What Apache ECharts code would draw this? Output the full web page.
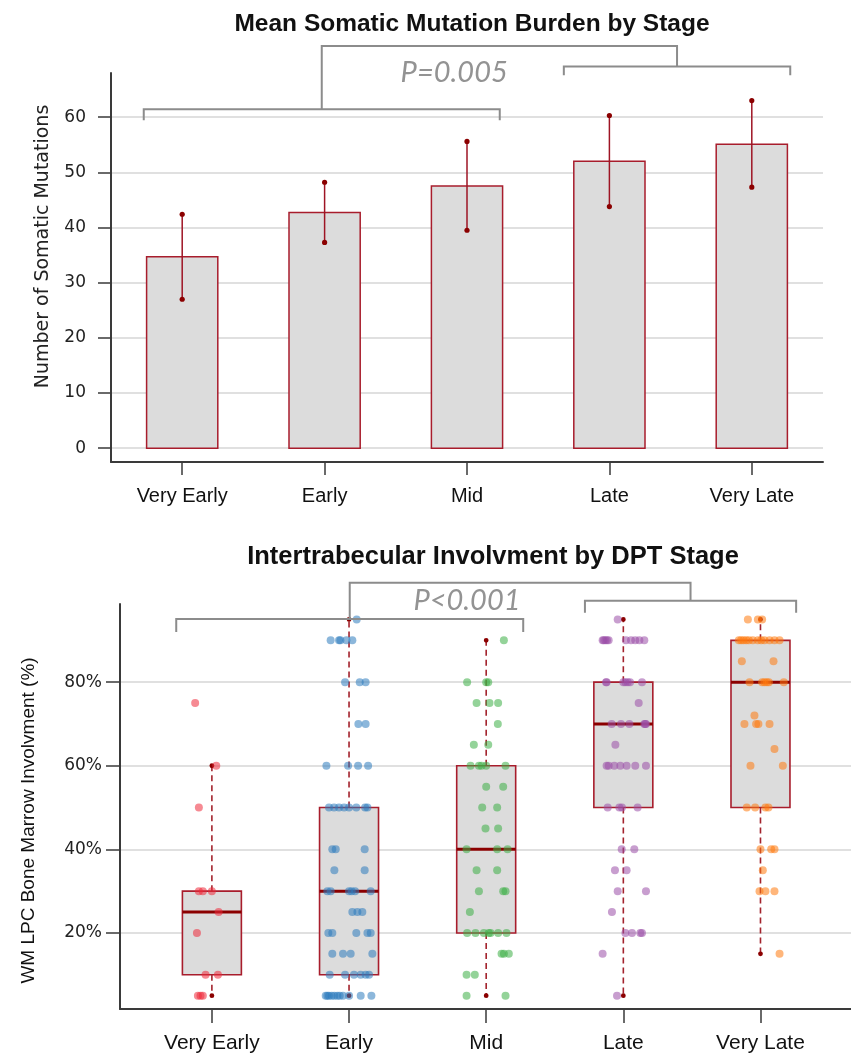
<!DOCTYPE html>
<html>
<head>
<meta charset="utf-8">
<script src="https://cdn.jsdelivr.net/npm/echarts@6/dist/echarts.min.js"></script>
<style>
  html, body { margin: 0; padding: 0; background: #ffffff; }
  #chart { width: 851px; height: 1057px; }
</style>
</head>
<body>
<div id="chart"></div>
<script>
// ---------- data ----------
const stages = ['Very Early', 'Early', 'Mid', 'Late', 'Very Late'];

// Mean somatic mutation burden with error-bar bounds
const burdenMean  = [34.7, 42.7, 47.5, 52.0, 55.1];
const burdenLower = [27.0, 37.3, 39.5, 43.8, 47.3];
const burdenUpper = [42.4, 48.2, 55.6, 60.3, 63.0];
const burdenTicks = [0, 10, 20, 30, 40, 50, 60];

// Intertrabecular involvement: box summaries per stage (%)
const whiskerLow  = [5, 5, 5, 5, 15];
const quartile1   = [10, 10, 20, 50, 50];
const medianInv   = [25, 30, 40, 70, 80];
const quartile3   = [30, 50, 60, 80, 90];
const whiskerHigh = [60, 95, 90, 95, 95];
const involvementTicks = [20, 40, 60, 80];

// Individual patients (%) with their horizontal jitter (fraction of stage spacing)
const veryEarlyVals = [75, 60, 50, 30, 30, 30, 25, 20, 10, 10, 5, 5, 5];
const veryEarlyJit  = [-0.122, 0.032, -0.095, -0.095, -0.066, 0, 0.049, -0.109, -0.046, 0.044, -0.102, -0.083, -0.066];

const earlyVals = [95,
  90, 90, 90, 90, 90,
  80, 80, 80,
  70, 70,
  60, 60, 60, 60,
  50, 50, 50, 50, 50, 50, 50, 50,
  40, 40, 40,
  35, 35,
  30, 30, 30, 30, 30, 30,
  25, 25, 25,
  20, 20, 20, 20, 20,
  15, 15, 15, 15,
  10, 10, 10, 10, 10, 10,
  5, 5, 5, 5, 5, 5, 5, 5, 5, 5, 5];
const earlyJit = [0.056,
  -0.134, -0.073, -0.063, -0.019, 0.024,
  -0.029, 0.078, 0.121,
  0.068, 0.121,
  -0.165, -0.007, 0.066, 0.139,
  -0.146, -0.109, -0.073, -0.036, 0, 0.053, 0.117, 0.134,
  -0.122, -0.097, 0.114,
  -0.107, 0.114,
  -0.158, -0.134, 0, 0.019, 0.044, 0.158,
  0.024, 0.061, 0.097,
  -0.151, -0.122, 0.053, 0.134, 0.158,
  -0.122, -0.044, 0.012, 0.170,
  -0.141, -0.029, 0.036, 0.085, 0.121, 0.146,
  -0.170, -0.158, -0.146, -0.126, -0.107, -0.085, -0.068, -0.044, 0, 0.085, 0.163];

const midVals = [90,
  80, 80, 80,
  75, 75, 75,
  70,
  65, 65,
  60, 60, 60, 60, 60,
  55, 55,
  50, 50,
  45, 45,
  40, 40, 40,
  35, 35,
  30, 30, 30,
  25,
  20, 20, 20, 20, 20, 20, 20,
  15, 15, 15,
  10, 10,
  5, 5];
const midJit = [0.129,
  -0.139, 0, 0.015,
  -0.070, 0.024, 0.087,
  0.085,
  -0.090, 0.015,
  -0.114, -0.053, -0.034, 0, 0.141,
  0, 0.124,
  -0.029, 0.080,
  -0.005, 0.087,
  -0.143, 0.080, 0.156,
  -0.070, 0.080,
  -0.053, 0.124, 0.141,
  -0.119,
  -0.139, -0.078, -0.017, 0.019, 0.032, 0.087, 0.148,
  0.112, 0.129, 0.165,
  -0.143, -0.083,
  -0.143, 0.141];

const lateVals = [95,
  90, 90, 90, 90, 90, 90, 90, 90, 90, 90,
  80, 80, 80, 80, 80, 80, 80,
  75,
  70, 70, 70, 70, 70, 70,
  65,
  60, 60, 60, 60, 60, 60, 60,
  50, 50, 50, 50,
  40, 40,
  35, 35,
  30, 30,
  25,
  20, 20, 20, 20,
  15,
  5];
const lateJit = [-0.041,
  -0.151, -0.143, -0.131, -0.119, -0.107, 0.019, 0.056, 0.087, 0.117, 0.153,
  -0.126, -0.122, 0, 0.015, 0.032, 0.049, 0.136,
  0.112,
  -0.085, -0.017, 0.044, 0.153, 0.160, 0.165,
  -0.058,
  -0.122, -0.107, -0.066, -0.022, 0.024, 0.087, 0.165,
  -0.114, -0.029, -0.010, 0.104,
  -0.012, 0.080,
  -0.061, 0.024,
  -0.041, 0.165,
  -0.083,
  0.015, 0.063, 0.124, 0.136,
  -0.151,
  -0.046];

const veryLateVals = [95, 95, 95,
  90, 90, 90, 90, 90, 90, 90, 90, 90, 90, 90, 90,
  85, 85,
  80, 80, 80, 80, 80, 80,
  72,
  70, 70, 70, 70,
  64,
  60, 60,
  50, 50, 50, 50,
  40, 40, 40,
  35,
  30, 30, 30,
  15];
const veryLateJit = [-0.092, -0.019, 0.012,
  -0.158, -0.141, -0.124, -0.104, -0.085, -0.056, -0.019, 0.005, 0.029, 0.066, 0.102, 0.139,
  -0.136, 0.095,
  -0.080, 0.012, 0.029, 0.046, 0.061, 0.170,
  -0.044,
  -0.117, -0.032, -0.015, 0.066,
  0.102,
  -0.073, 0.163,
  -0.100, -0.039, 0.036, 0.058,
  0, 0.078, 0.102,
  0.017,
  -0.007, 0.036, 0.102,
  0.139];

const stageColors = ['#ee2a3a', '#2e7bbd', '#3cae45', '#9b4ea8', '#ff7a0e'];

// ---------- styling helpers ----------
const AXIS_COLOR = '#3a3a3a';
const GRID_COLOR = '#d6d6d6';
const BRACKET_COLOR = '#8c8c8c';
const BOX_FILL = '#dcdcdc';
const BOX_EDGE = '#a81d2c';
const DARK_RED = '#8b0000';

function bracketRenderer(spec) {
  return function (params, api) {
    const line = (pts) => ({
      type: 'polyline',
      shape: { points: pts.map(p => api.coord(p)) },
      style: { stroke: BRACKET_COLOR, lineWidth: 2, fill: null }
    });
    const lMid = (spec.left[0] + spec.left[1]) / 2;
    const rMid = (spec.right[0] + spec.right[1]) / 2;
    const txt = api.coord([spec.labelX, spec.labelY]);
    return {
      type: 'group',
      children: [
        line([[spec.left[0], spec.leftY - spec.leftDrop], [spec.left[0], spec.leftY],
              [spec.left[1], spec.leftY], [spec.left[1], spec.leftY - spec.leftDrop]]),
        line([[spec.right[0], spec.rightY - spec.rightDrop], [spec.right[0], spec.rightY],
              [spec.right[1], spec.rightY], [spec.right[1], spec.rightY - spec.rightDrop]]),
        line([[lMid, spec.leftY], [lMid, spec.topY], [rMid, spec.topY], [rMid, spec.rightY]]),
        {
          type: 'text',
          x: txt[0], y: txt[1],
          style: {
            text: spec.label,
            fill: '#939393',
            fontStyle: 'italic',
            fontWeight: 'normal',
            fontSize: 29,
            fontFamily: 'Lato, "DejaVu Sans", sans-serif',
            align: 'center', verticalAlign: 'middle'
          }
        }
      ]
    };
  };
}

function stripSeries(vals, jit, stageIdx) {
  return {
    type: 'scatter',
    xAxisIndex: 1, yAxisIndex: 1,
    symbolSize: 8,
    itemStyle: { color: stageColors[stageIdx], opacity: 0.55 },
    z: 5,
    data: vals.map((v, k) => [stageIdx + jit[k], v])
  };
}

const chart = echarts.init(document.getElementById('chart'), null, { renderer: 'canvas' });

const valueFont = '"DejaVu Sans", sans-serif';
const textFont = '"Liberation Sans", Arial, sans-serif';

const option = {
  backgroundColor: '#ffffff',
  animation: false,
  title: [
    {
      text: 'Mean Somatic Mutation Burden by Stage',
      left: 467, top: 7, textAlign: 'center',
      textStyle: { fontFamily: textFont, fontWeight: 'bold', fontSize: 24.5, color: '#111' }
    },
    {
      text: 'Intertrabecular Involvment by DPT Stage',
      left: 488, top: 539, textAlign: 'center',
      textStyle: { fontFamily: textFont, fontWeight: 'bold', fontSize: 25.5, color: '#111' }
    }
  ],
  grid: [
    { left: 111, right: 28, top: 73, bottom: 595, containLabel: false, outerBoundsMode: 'none' },
    { left: 120, right: 0, top: 604, bottom: 48, containLabel: false, outerBoundsMode: 'none' }
  ],
  xAxis: [
    {
      gridIndex: 0, type: 'value', min: -0.5, max: 4.5,
      axisLine: { show: true, onZero: false, lineStyle: { color: AXIS_COLOR, width: 2 } },
      axisTick: { show: true, customValues: [0, 1, 2, 3, 4], length: 13, lineStyle: { color: AXIS_COLOR, width: 1.5 } },
      axisLabel: { customValues: [0, 1, 2, 3, 4], formatter: v => stages[v], margin: 24,
                   fontFamily: textFont, fontSize: 20, color: '#111' },
      splitLine: { show: false }
    },
    {
      gridIndex: 1, type: 'value', min: -0.67, max: 4.66,
      axisLine: { show: true, onZero: false, lineStyle: { color: AXIS_COLOR, width: 2 } },
      axisTick: { show: true, customValues: [0, 1, 2, 3, 4], length: 14, lineStyle: { color: AXIS_COLOR, width: 1.5 } },
      axisLabel: { customValues: [0, 1, 2, 3, 4], formatter: v => stages[v], margin: 24,
                   fontFamily: textFont, fontSize: 21, color: '#111' },
      splitLine: { show: false }
    }
  ],
  yAxis: [
    {
      gridIndex: 0, type: 'value', min: -2.5, max: 68,
      name: 'Number of Somatic Mutations', nameLocation: 'middle', nameGap: 58,
      nameTextStyle: { fontFamily: valueFont, fontSize: 19, color: '#222', padding: [0, 0, 0, 42] },
      axisLine: { show: true, onZero: false, lineStyle: { color: AXIS_COLOR, width: 2 } },
      axisTick: { show: true, customValues: burdenTicks, length: 13, lineStyle: { color: AXIS_COLOR, width: 1.5 } },
      axisLabel: { customValues: burdenTicks, margin: 25, fontFamily: valueFont, fontSize: 17, color: '#222' },
      splitLine: { show: true, lineStyle: { color: GRID_COLOR, width: 1.5 } }
    },
    {
      gridIndex: 1, type: 'value', min: 1.8, max: 98.7,
      name: 'WM LPC Bone Marrow Involvment (%)', nameLocation: 'middle', nameGap: 82,
      nameTextStyle: { fontFamily: textFont, fontSize: 19, color: '#111', padding: [0, 28, 0, 0] },
      axisLine: { show: true, onZero: false, lineStyle: { color: AXIS_COLOR, width: 2 } },
      axisTick: { show: true, customValues: involvementTicks, length: 14, lineStyle: { color: AXIS_COLOR, width: 1.5 } },
      axisLabel: { customValues: involvementTicks, formatter: v => v + '%', margin: 18,
                   fontFamily: valueFont, fontSize: 17, color: '#222' },
      splitLine: { show: true, lineStyle: { color: GRID_COLOR, width: 1.5 } }
    }
  ],
  series: [
    // mean bars with error bars
    {
      type: 'custom', xAxisIndex: 0, yAxisIndex: 0,
      data: stages.map((s, i) => [i, burdenMean[i], burdenLower[i], burdenUpper[i]]),
      encode: { x: 0, y: [1, 2, 3] },
      renderItem: function (params, api) {
        const i = api.value(0);
        const tl = api.coord([i - 0.25, api.value(1)]);
        const br = api.coord([i + 0.25, 0]);
        const lo = api.coord([i, api.value(2)]);
        const hi = api.coord([i, api.value(3)]);
        return {
          type: 'group',
          children: [
            { type: 'rect', shape: { x: tl[0], y: tl[1], width: br[0] - tl[0], height: br[1] - tl[1] },
              style: { fill: BOX_FILL, stroke: BOX_EDGE, lineWidth: 1.5 } },
            { type: 'line', shape: { x1: lo[0], y1: lo[1], x2: hi[0], y2: hi[1] },
              style: { stroke: '#9e1424', lineWidth: 1.5 } },
            { type: 'circle', shape: { cx: lo[0], cy: lo[1], r: 2.6 }, style: { fill: DARK_RED } },
            { type: 'circle', shape: { cx: hi[0], cy: hi[1], r: 2.6 }, style: { fill: DARK_RED } }
          ]
        };
      }
    },
    // significance bracket, top panel
    {
      type: 'custom', xAxisIndex: 0, yAxisIndex: 0, clip: false, silent: true,
      data: [[0, 0]],
      renderItem: bracketRenderer({
        left: [-0.27, 2.23], leftY: 61.45, leftDrop: 2.0,
        right: [2.68, 4.27], rightY: 69.2, rightDrop: 1.6,
        topY: 72.9, label: 'P=0.005', labelX: 1.91, labelY: 68.0
      })
    },
    // box plots, bottom panel
    {
      type: 'custom', xAxisIndex: 1, yAxisIndex: 1,
      data: stages.map((s, i) => [i, whiskerLow[i], quartile1[i], medianInv[i], quartile3[i], whiskerHigh[i]]),
      encode: { x: 0, y: [1, 2, 3, 4, 5] },
      renderItem: function (params, api) {
        const i = api.value(0);
        const hw = 0.215;
        const q3L = api.coord([i - hw, api.value(4)]);
        const q1R = api.coord([i + hw, api.value(2)]);
        const medL = api.coord([i - hw, api.value(3)]);
        const medR = api.coord([i + hw, api.value(3)]);
        const wLo = api.coord([i, api.value(1)]);
        const q1C = api.coord([i, api.value(2)]);
        const q3C = api.coord([i, api.value(4)]);
        const wHi = api.coord([i, api.value(5)]);
        const dash = { stroke: '#a3232d', lineWidth: 1.6, lineDash: [6, 4] };
        return {
          type: 'group',
          children: [
            { type: 'rect', shape: { x: q3L[0], y: q3L[1], width: q1R[0] - q3L[0], height: q1R[1] - q3L[1] },
              style: { fill: BOX_FILL, stroke: BOX_EDGE, lineWidth: 1.6 } },
            { type: 'line', shape: { x1: q3C[0], y1: q3C[1], x2: wHi[0], y2: wHi[1] }, style: dash },
            { type: 'line', shape: { x1: q1C[0], y1: q1C[1], x2: wLo[0], y2: wLo[1] }, style: dash },
            { type: 'line', shape: { x1: medL[0], y1: medL[1], x2: medR[0], y2: medR[1] },
              style: { stroke: DARK_RED, lineWidth: 3 } },
            { type: 'circle', shape: { cx: wHi[0], cy: wHi[1], r: 2.4 }, style: { fill: DARK_RED } },
            { type: 'circle', shape: { cx: wLo[0], cy: wLo[1], r: 2.4 }, style: { fill: DARK_RED } }
          ]
        };
      }
    },
    stripSeries(veryEarlyVals, veryEarlyJit, 0),
    stripSeries(earlyVals, earlyJit, 1),
    stripSeries(midVals, midJit, 2),
    stripSeries(lateVals, lateJit, 3),
    stripSeries(veryLateVals, veryLateJit, 4),
    // significance bracket, bottom panel
    {
      type: 'custom', xAxisIndex: 1, yAxisIndex: 1, clip: false, silent: true, z: 6,
      data: [[0, 50]],
      renderItem: bracketRenderer({
        left: [-0.26, 2.27], leftY: 95.1, leftDrop: 3.1,
        right: [2.72, 4.26], rightY: 99.5, rightDrop: 2.9,
        topY: 103.8, label: 'P<0.001', labelX: 1.86, labelY: 99.6
      })
    }
  ]
};

chart.setOption(option);
</script>
</body>
</html>
